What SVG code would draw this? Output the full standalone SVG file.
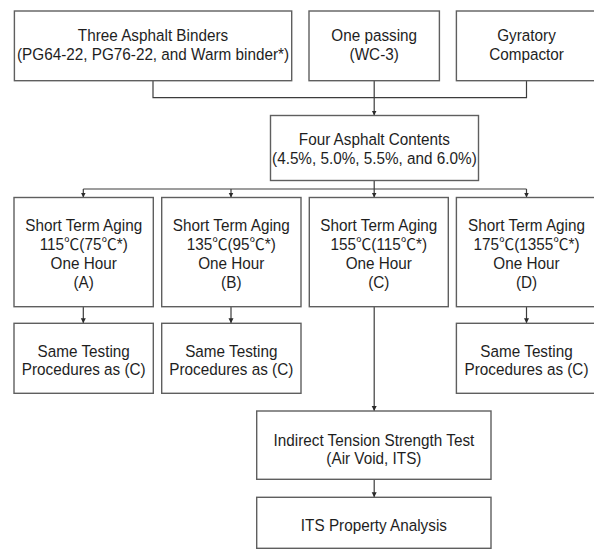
<svg xmlns="http://www.w3.org/2000/svg" width="594" height="549" viewBox="0 0 594 549">
<defs>
<style>
.box{fill:#fff;stroke:#5f5f5f;stroke-width:1.4}
.ln{fill:none;stroke:#3c3c3c;stroke-width:1.2}
text{font-family:"Liberation Sans",Arial,"Noto Sans CJK SC",sans-serif;font-size:15.6px;fill:#1e1e1e;text-anchor:middle}
</style>
<marker id="ah" markerWidth="6" markerHeight="6" refX="5" refY="3" orient="auto" markerUnits="userSpaceOnUse">
<path d="M0,0.5 L5,3 L0,5.5 Z" fill="#2a2a2a"/>
</marker>
</defs>
<rect width="594" height="549" fill="#fff"/>
<g id="connectors">
<path class="ln" d="M153,80.7 V97.7 H526.5 V80.7"/>
<path class="ln" d="M374.2,80.7 V115.5" marker-end="url(#ah)"/>
<path class="ln" d="M374.2,180.5 V189 M83.3,189 H526.5"/>
<path class="ln" d="M83.3,189 V197.5" marker-end="url(#ah)"/>
<path class="ln" d="M231,189 V197.5" marker-end="url(#ah)"/>
<path class="ln" d="M374.2,189 V197.5" marker-end="url(#ah)"/>
<path class="ln" d="M526.5,189 V197.5" marker-end="url(#ah)"/>
<path class="ln" d="M83.3,306.7 V323.3" marker-end="url(#ah)"/>
<path class="ln" d="M231,306.7 V323.3" marker-end="url(#ah)"/>
<path class="ln" d="M526.5,306.7 V323.3" marker-end="url(#ah)"/>
<path class="ln" d="M374.2,306.7 V411" marker-end="url(#ah)"/>
<path class="ln" d="M374.2,479.3 V497.3" marker-end="url(#ah)"/>
</g>
<g id="binders">
<rect class="box" x="14.4" y="11" width="277.3" height="69.7"/>
<text transform="translate(153 0) scale(0.98 1)"><tspan x="0" y="40.7">Three Asphalt Binders</tspan><tspan x="0" y="59.7">(PG64-22, PG76-22, and Warm binder*)</tspan></text>
</g>
<g id="passing">
<rect class="box" x="309" y="11" width="130.4" height="69.7"/>
<text transform="translate(374.2 0) scale(0.98 1)"><tspan x="0" y="40.7">One passing</tspan><tspan x="0" y="59.7">(WC-3)</tspan></text>
</g>
<g id="compactor">
<rect class="box" x="456.4" y="11" width="140" height="69.7"/>
<text transform="translate(526.5 0) scale(0.98 1)"><tspan x="0" y="40.7">Gyratory</tspan><tspan x="0" y="59.7">Compactor</tspan></text>
</g>
<g id="contents">
<rect class="box" x="270.5" y="115.5" width="208" height="65"/>
<text transform="translate(374.4 0) scale(0.98 1)"><tspan x="0" y="145.3">Four Asphalt Contents</tspan><tspan x="0" y="164.4">(4.5%, 5.0%, 5.5%, and 6.0%)</tspan></text>
</g>
<g id="agingA">
<rect class="box" x="14" y="197.5" width="139.3" height="109.2"/>
<text transform="translate(83.7 0) scale(0.98 1)"><tspan x="0" y="231.5">Short Term Aging</tspan><tspan x="0" y="250.3">115℃(75℃*)</tspan><tspan x="0" y="269.1">One Hour</tspan><tspan x="0" y="287.9">(A)</tspan></text>
</g>
<g id="agingB">
<rect class="box" x="161.7" y="197.5" width="139.3" height="109.2"/>
<text transform="translate(231.3 0) scale(0.98 1)"><tspan x="0" y="231.5">Short Term Aging</tspan><tspan x="0" y="250.3">135℃(95℃*)</tspan><tspan x="0" y="269.1">One Hour</tspan><tspan x="0" y="287.9">(B)</tspan></text>
</g>
<g id="agingC">
<rect class="box" x="309.3" y="197.5" width="139" height="109.2"/>
<text transform="translate(378.8 0) scale(0.98 1)"><tspan x="0" y="231.5">Short Term Aging</tspan><tspan x="0" y="250.3">155℃(115℃*)</tspan><tspan x="0" y="269.1">One Hour</tspan><tspan x="0" y="287.9">(C)</tspan></text>
</g>
<g id="agingD">
<rect class="box" x="456.4" y="197.5" width="140" height="109.2"/>
<text transform="translate(526.5 0) scale(0.98 1)"><tspan x="0" y="231.5">Short Term Aging</tspan><tspan x="0" y="250.3">175℃(1355℃*)</tspan><tspan x="0" y="269.1">One Hour</tspan><tspan x="0" y="287.9">(D)</tspan></text>
</g>
<g id="sameA">
<rect class="box" x="14" y="323.3" width="139.3" height="70"/>
<text transform="translate(83.7 0) scale(0.98 1)"><tspan x="0" y="356.6">Same Testing</tspan><tspan x="0" y="375.3">Procedures as (C)</tspan></text>
</g>
<g id="sameB">
<rect class="box" x="161.7" y="323.3" width="139.3" height="70"/>
<text transform="translate(231.3 0) scale(0.98 1)"><tspan x="0" y="356.6">Same Testing</tspan><tspan x="0" y="375.3">Procedures as (C)</tspan></text>
</g>
<g id="sameD">
<rect class="box" x="456.4" y="323.3" width="140" height="70"/>
<text transform="translate(526.5 0) scale(0.98 1)"><tspan x="0" y="356.6">Same Testing</tspan><tspan x="0" y="375.3">Procedures as (C)</tspan></text>
</g>
<g id="its">
<rect class="box" x="256.7" y="411" width="234.3" height="68.3"/>
<text transform="translate(373.9 0) scale(0.98 1)"><tspan x="0" y="445.6">Indirect Tension Strength Test</tspan><tspan x="0" y="464.4">(Air Void, ITS)</tspan></text>
</g>
<g id="analysis">
<rect class="box" x="256.7" y="497.3" width="234.3" height="51"/>
<text transform="translate(373.9 0) scale(0.98 1)"><tspan x="0" y="531">ITS Property Analysis</tspan></text>
</g>
</svg>
